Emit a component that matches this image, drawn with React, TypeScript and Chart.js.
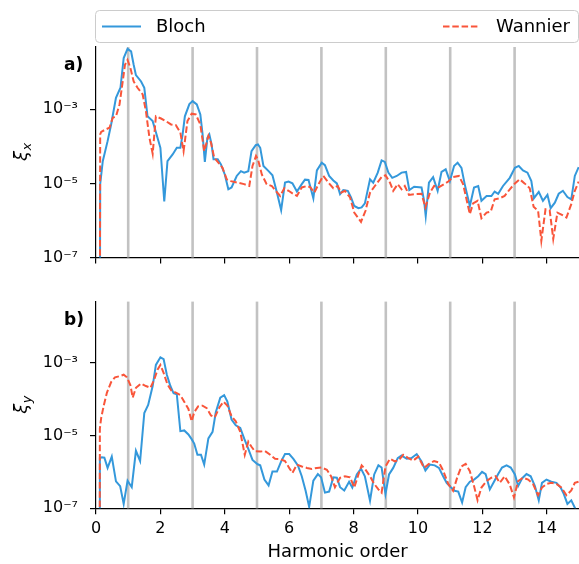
import React, { useEffect, useRef } from 'react';
import { Chart, registerables } from 'chart.js';

Chart.register(...registerables);

// ---------------- data (stored as log10 of ξ) ----------------
const seriesLabels = ['Bloch', 'Wannier'];
const xTicks = [0, 2, 4, 6, 8, 10, 12, 14];
const yTicks = [1e-7, 1e-5, 1e-3];
const oddHarmonics = [1, 3, 5, 7, 9, 11, 13];
const panelLabels = ['a)', 'b)'];
const ySubscripts = ['x', 'y'];
const xTitle = 'Harmonic order';

// panel a) ξx
const blochXx = [0.10,0.13,0.21,0.36,0.47,0.62,0.76,0.86,0.98,1.09,1.17,1.24,1.40,1.50,1.60,1.76,1.91,2.00,2.12,2.22,2.38,2.51,2.62,2.69,2.76,2.90,3.00,3.13,3.24,3.31,3.38,3.46,3.52,3.59,3.65,3.78,3.88,4.00,4.11,4.21,4.37,4.50,4.60,4.73,4.83,4.96,5.03,5.10,5.20,5.36,5.48,5.62,5.75,5.87,5.98,6.10,6.24,6.39,6.49,6.60,6.75,6.86,7.01,7.11,7.24,7.37,7.48,7.58,7.68,7.82,7.92,8.02,8.15,8.25,8.35,8.51,8.61,8.75,8.87,8.97,9.08,9.20,9.34,9.49,9.63,9.73,9.88,10.11,10.19,10.24,10.34,10.47,10.61,10.73,10.86,10.99,11.12,11.23,11.35,11.45,11.61,11.74,11.87,11.97,12.13,12.28,12.38,12.49,12.64,12.85,13.01,13.13,13.26,13.40,13.52,13.60,13.75,13.88,14.02,14.12,14.25,14.37,14.50,14.64,14.76,14.87,14.99];
const blochXlog10 = [-20,-5.02,-4.40,-3.86,-3.41,-2.69,-2.42,-1.62,-1.37,-1.44,-1.80,-2.08,-2.25,-2.42,-3.19,-3.32,-3.77,-4.04,-5.49,-4.40,-4.22,-4.04,-4.04,-3.68,-3.19,-2.86,-2.78,-2.87,-3.14,-3.68,-4.42,-3.77,-3.68,-3.95,-4.35,-4.35,-4.49,-4.76,-5.16,-5.11,-4.80,-4.67,-4.71,-4.67,-4.13,-3.97,-3.95,-4.04,-4.53,-4.67,-4.78,-5.25,-5.72,-4.98,-4.95,-5.00,-5.22,-5.02,-4.90,-4.91,-5.40,-4.65,-4.44,-4.51,-4.80,-4.92,-5.00,-5.29,-5.18,-5.20,-5.38,-5.61,-5.67,-5.65,-5.54,-4.89,-4.98,-4.71,-4.38,-4.42,-4.71,-4.85,-4.80,-4.71,-4.69,-5.18,-5.09,-5.11,-5.47,-5.88,-4.98,-4.83,-5.20,-4.69,-4.62,-4.94,-4.53,-4.44,-4.58,-5.02,-5.61,-5.11,-5.07,-5.47,-5.34,-5.34,-5.22,-5.28,-5.07,-4.85,-4.58,-4.53,-4.65,-4.71,-4.94,-5.40,-5.23,-5.47,-5.31,-5.67,-5.52,-5.28,-5.20,-5.37,-5.43,-4.80,-4.56];
const wannierXx = [0.10,0.13,0.16,0.31,0.42,0.52,0.62,0.73,0.83,0.90,0.98,1.07,1.17,1.29,1.45,1.55,1.66,1.76,1.86,2.02,2.17,2.33,2.48,2.62,2.72,2.84,2.97,3.10,3.24,3.36,3.49,3.57,3.67,3.80,3.93,4.06,4.19,4.39,4.60,4.76,4.86,4.97,5.03,5.15,5.30,5.46,5.58,5.72,5.85,5.98,6.10,6.24,6.39,6.55,6.65,6.78,6.91,7.06,7.22,7.37,7.51,7.61,7.73,7.89,8.02,8.23,8.37,8.51,8.66,8.87,8.99,9.13,9.23,9.37,9.49,9.59,9.72,9.88,10.11,10.23,10.37,10.50,10.65,10.81,10.94,11.09,11.27,11.40,11.54,11.61,11.71,11.85,11.97,12.13,12.26,12.38,12.54,12.69,12.85,13.01,13.16,13.31,13.47,13.59,13.73,13.83,13.96,14.09,14.20,14.33,14.47,14.61,14.76,14.87,14.99];
const wannierXlog10 = [-20,-3.68,-3.61,-3.54,-3.50,-3.23,-3.19,-2.87,-2.25,-1.80,-1.67,-1.89,-2.25,-2.42,-2.60,-3.05,-3.77,-4.20,-3.19,-3.25,-3.32,-3.41,-3.43,-3.63,-4.13,-3.32,-3.12,-3.14,-3.41,-4.13,-3.72,-3.90,-4.30,-4.44,-4.58,-4.89,-4.94,-4.98,-5.02,-5.07,-4.53,-4.26,-4.35,-4.76,-5.02,-5.07,-5.20,-5.34,-5.13,-5.20,-5.27,-5.34,-5.11,-5.07,-5.10,-5.25,-5.02,-4.80,-4.98,-5.13,-5.07,-5.25,-5.20,-5.38,-5.79,-6.04,-5.74,-5.25,-5.07,-4.83,-4.78,-4.98,-5.20,-5.02,-5.16,-5.07,-5.31,-5.29,-5.28,-5.65,-5.25,-5.07,-5.10,-5.02,-4.95,-4.83,-4.80,-5.02,-5.56,-5.83,-5.54,-5.47,-5.94,-5.79,-5.76,-5.43,-5.40,-5.34,-5.16,-5.00,-4.89,-5.00,-5.13,-5.63,-5.74,-6.55,-5.70,-5.73,-6.50,-5.79,-5.85,-5.92,-5.56,-5.20,-4.95];

// panel b) ξy
const blochYx = [0.10,0.12,0.18,0.26,0.36,0.49,0.62,0.75,0.86,0.98,1.11,1.24,1.37,1.50,1.62,1.76,1.86,2.00,2.10,2.20,2.31,2.41,2.51,2.62,2.74,2.87,2.97,3.05,3.15,3.26,3.36,3.49,3.62,3.72,3.86,3.98,4.08,4.21,4.34,4.48,4.60,4.73,4.86,5.02,5.10,5.23,5.36,5.48,5.62,5.75,5.87,6.00,6.13,6.27,6.39,6.51,6.62,6.75,6.89,6.99,7.11,7.24,7.37,7.48,7.58,7.71,7.86,7.96,8.10,8.23,8.35,8.51,8.64,8.77,8.87,8.99,9.10,9.23,9.37,9.49,9.65,9.80,9.96,10.11,10.23,10.37,10.52,10.65,10.78,10.89,11.02,11.14,11.25,11.37,11.48,11.61,11.74,11.87,11.99,12.10,12.23,12.36,12.49,12.61,12.75,12.88,13.01,13.11,13.23,13.37,13.50,13.63,13.75,13.85,13.99,14.14,14.30,14.43,14.53,14.64,14.76,14.89,15.00];
const blochYlog10 = [-20,-5.62,-5.60,-5.61,-5.89,-5.58,-6.26,-6.39,-6.88,-6.24,-6.42,-5.42,-5.70,-4.38,-4.16,-3.64,-3.06,-2.85,-2.90,-3.33,-3.64,-3.84,-3.87,-4.88,-4.86,-4.97,-5.10,-5.22,-5.53,-5.53,-5.80,-5.08,-4.90,-4.36,-3.96,-3.89,-4.07,-4.56,-4.72,-4.79,-5.08,-5.37,-5.67,-5.79,-5.82,-6.21,-6.37,-5.99,-5.99,-5.71,-5.51,-5.51,-5.64,-5.82,-6.12,-6.52,-6.96,-6.24,-6.06,-6.15,-6.57,-6.54,-6.15,-6.16,-6.42,-6.51,-6.27,-6.43,-6.07,-5.91,-6.12,-6.79,-6.07,-5.82,-5.88,-6.61,-6.07,-5.89,-5.62,-5.55,-5.64,-5.62,-5.51,-5.71,-5.96,-5.80,-5.82,-5.89,-6.12,-6.30,-6.42,-6.52,-6.54,-6.84,-6.42,-6.27,-6.21,-6.12,-6.00,-6.06,-6.48,-6.27,-6.06,-5.88,-5.82,-5.88,-6.07,-6.39,-6.18,-6.06,-6.12,-6.39,-6.78,-6.30,-6.21,-6.27,-6.30,-6.43,-6.61,-6.88,-6.78,-7.02,-7.20];
const wannierYx = [0.10,0.12,0.16,0.24,0.34,0.47,0.59,0.73,0.86,0.96,1.07,1.14,1.24,1.40,1.55,1.69,1.81,1.91,2.00,2.10,2.22,2.35,2.48,2.62,2.74,2.87,2.97,3.05,3.17,3.31,3.44,3.57,3.69,3.83,3.96,4.08,4.21,4.34,4.48,4.62,4.73,4.83,4.93,5.10,5.25,5.41,5.56,5.72,5.87,6.00,6.10,6.24,6.39,6.55,6.70,6.86,7.01,7.17,7.30,7.42,7.58,7.73,7.89,8.02,8.15,8.25,8.37,8.51,8.64,8.77,8.87,8.99,9.13,9.28,9.41,9.54,9.70,9.85,10.01,10.19,10.34,10.50,10.65,10.78,10.94,11.09,11.23,11.35,11.48,11.61,11.74,11.85,11.97,12.13,12.28,12.41,12.54,12.69,12.85,12.98,13.11,13.26,13.42,13.57,13.73,13.85,13.99,14.14,14.30,14.45,14.61,14.76,14.87,14.99];
const wannierYlog10 = [-20,-4.81,-4.52,-4.18,-3.82,-3.53,-3.40,-3.37,-3.33,-3.40,-3.62,-3.96,-3.69,-3.57,-3.64,-3.69,-3.46,-3.19,-3.06,-3.28,-3.60,-3.78,-3.82,-3.89,-4.07,-4.27,-4.61,-4.36,-4.20,-4.18,-4.25,-4.45,-4.50,-4.23,-4.07,-4.18,-4.47,-4.61,-4.90,-5.53,-5.17,-5.31,-5.43,-5.44,-5.43,-5.53,-5.64,-5.65,-5.70,-5.89,-6.03,-5.80,-5.85,-5.89,-5.92,-5.89,-5.88,-5.94,-6.12,-6.42,-6.16,-6.12,-6.15,-6.43,-6.07,-5.82,-5.94,-6.12,-6.33,-6.48,-6.57,-5.85,-5.64,-5.71,-5.67,-5.53,-5.62,-5.69,-5.58,-5.89,-5.78,-5.70,-5.74,-5.96,-6.33,-6.52,-6.12,-5.85,-5.78,-5.98,-6.39,-6.78,-6.43,-6.25,-6.16,-6.12,-6.30,-6.12,-6.35,-6.70,-6.25,-6.16,-6.21,-6.33,-6.64,-6.43,-6.33,-6.30,-6.33,-6.43,-6.64,-6.51,-6.30,-6.27];

// ---------------- styling ----------------
const FONT = "'DejaVu Sans', sans-serif";
const BLUE = '#3498db';
const RED = '#f9553a';
const GRAY = '#c2c2c2';
const DASH = [6.5, 2.8];
const LINE_W = 2;
const Y_MIN = 1e-7;
const Y_MAX = Math.pow(10, -1.32);
const W = 579;
const TOP_H = 280;
const BOT_H = 284;

const SUP: Record<string, string> = { '-': '\u207B', '0': '\u2070', '1': '\u00B9', '2': '\u00B2', '3': '\u00B3', '4': '\u2074', '5': '\u2075', '6': '\u2076', '7': '\u2077', '8': '\u2078', '9': '\u2079' };
const sup = (n: number) => String(n).split('').map((c) => SUP[c] || c).join('');

const toPoints = (xs: number[], logs: number[]) => xs.map((x, i) => ({ x, y: Math.pow(10, logs[i]) }));

function decorPlugin(panel: number) {
  return {
    id: 'decor' + panel,
    beforeDatasetsDraw(chart: any) {
      const { ctx, chartArea, scales } = chart;
      ctx.save();
      ctx.strokeStyle = GRAY;
      ctx.lineWidth = 2.6;
      for (const h of oddHarmonics) {
        const px = scales.x.getPixelForValue(h);
        ctx.beginPath();
        ctx.moveTo(px, chartArea.top);
        ctx.lineTo(px, chartArea.bottom);
        ctx.stroke();
      }
      ctx.restore();
    },
    afterDraw(chart: any) {
      const { ctx, chartArea } = chart;
      ctx.save();
      // panel label
      ctx.fillStyle = '#000';
      ctx.font = `bold 17px ${FONT}`;
      ctx.textAlign = 'left';
      ctx.textBaseline = 'alphabetic';
      ctx.fillText(panelLabels[panel], 64, chartArea.top + 23);
      // y title: ξ with subscript
      const cy = (chartArea.top + chartArea.bottom) / 2;
      ctx.save();
      ctx.translate(27, cy);
      ctx.rotate(-Math.PI / 2);
      ctx.font = `italic 18px ${FONT}`;
      const w1 = ctx.measureText('\u03BE').width;
      ctx.font = `italic 13px ${FONT}`;
      const w2 = ctx.measureText(ySubscripts[panel]).width;
      const start = -(w1 + w2) / 2;
      ctx.font = `italic 18px ${FONT}`;
      ctx.fillText('\u03BE', start, 0);
      ctx.font = `italic 13px ${FONT}`;
      ctx.fillText(ySubscripts[panel], start + w1 + 0.5, 3.5);
      ctx.restore();
      // legend (top panel only)
      if (panel === 0) {
        const bx = 95.5, by = 10.5, bw = 483, bh = 32;
        ctx.beginPath();
        ctx.roundRect(bx, by, bw, bh, 4);
        ctx.fillStyle = 'rgba(255,255,255,0.85)';
        ctx.fill();
        ctx.strokeStyle = '#cccccc';
        ctx.lineWidth = 1;
        ctx.stroke();
        const ly = by + bh / 2;
        const ds = chart.data.datasets;
        const items = [
          { x0: 102, x1: 141, tx: 156, ds: ds[0] },
          { x0: 443, x1: 480, tx: 496, ds: ds[1] },
        ];
        for (const it of items) {
          ctx.beginPath();
          ctx.strokeStyle = it.ds.borderColor;
          ctx.lineWidth = LINE_W;
          ctx.setLineDash(it.ds.borderDash || []);
          ctx.moveTo(it.x0, ly);
          ctx.lineTo(it.x1, ly);
          ctx.stroke();
          ctx.setLineDash([]);
          ctx.fillStyle = '#000';
          ctx.font = `18px ${FONT}`;
          ctx.textAlign = 'left';
          ctx.textBaseline = 'middle';
          ctx.fillText(it.ds.label, it.tx, ly + 1);
        }
      }
      ctx.restore();
    },
  };
}

function makeConfig(panel: number): any {
  const isTop = panel === 0;
  const bloch = isTop ? toPoints(blochXx, blochXlog10) : toPoints(blochYx, blochYlog10);
  const wann = isTop ? toPoints(wannierXx, wannierXlog10) : toPoints(wannierYx, wannierYlog10);
  const axisGrid = { display: true, drawOnChartArea: false, drawTicks: true, tickLength: 6, color: '#000', tickWidth: 1.2, lineWidth: 1.2 };
  const axisBorder = { display: true, color: '#000', width: 1.2 };
  return {
    type: 'line',
    data: {
      datasets: [
        { label: seriesLabels[0], data: bloch, borderColor: BLUE, backgroundColor: BLUE, borderWidth: LINE_W, pointRadius: 0, fill: false, tension: 0, order: 1 },
        { label: seriesLabels[1], data: wann, borderColor: RED, backgroundColor: RED, borderWidth: LINE_W, borderDash: DASH, pointRadius: 0, fill: false, tension: 0, order: 0 },
      ],
    },
    options: {
      animation: false,
      responsive: false,
      maintainAspectRatio: false,
      events: [],
      layout: { padding: { top: isTop ? 47 : 18, left: 0, right: 0, bottom: 0 } },
      plugins: { legend: { display: false }, tooltip: { enabled: false }, title: { display: false } },
      scales: {
        x: {
          type: 'linear',
          min: 0,
          max: 15,
          afterBuildTicks: (s: any) => { s.ticks = xTicks.map((v) => ({ value: v })); },
          afterFit: (s: any) => { s.height = isTop ? TOP_H - 257.5 : BOT_H - 228.3; },
          grid: axisGrid,
          border: axisBorder,
          ticks: { display: !isTop, font: { family: FONT, size: 16 }, color: '#000', padding: 5, maxRotation: 0, autoSkip: false },
          title: { display: !isTop, text: xTitle, font: { family: FONT, size: 18 }, color: '#000', padding: { top: 0, bottom: 1 } },
        },
        y: {
          type: 'logarithmic',
          min: Y_MIN,
          max: Y_MAX,
          afterBuildTicks: (s: any) => { s.ticks = yTicks.map((v) => ({ value: v })); },
          afterFit: (s: any) => { s.width = 96; },
          grid: axisGrid,
          border: axisBorder,
          ticks: {
            font: { family: FONT, size: 16 },
            color: '#000',
            padding: 12,
            autoSkip: false,
            callback: (v: number) => '10' + sup(Math.round(Math.log10(v))),
          },
        },
      },
    },
    plugins: [decorPlugin(panel)],
  };
}

function Panel({ panel, top, height }: { panel: number; top: number; height: number }) {
  const ref = useRef<HTMLCanvasElement | null>(null);
  useEffect(() => {
    if (!ref.current) return;
    const chart = new Chart(ref.current, makeConfig(panel));
    return () => chart.destroy();
  }, [panel]);
  return (
    <canvas
      ref={ref}
      width={W}
      height={height}
      style={{ position: 'absolute', left: 0, top, width: W, height, display: 'block' }}
    />
  );
}

export default function App() {
  return (
    <div style={{ position: 'fixed', left: 0, top: 0, width: W, height: TOP_H + BOT_H, background: '#fff', overflow: 'hidden' }}>
      <Panel panel={0} top={0} height={TOP_H} />
      <Panel panel={1} top={TOP_H} height={BOT_H} />
    </div>
  );
}
